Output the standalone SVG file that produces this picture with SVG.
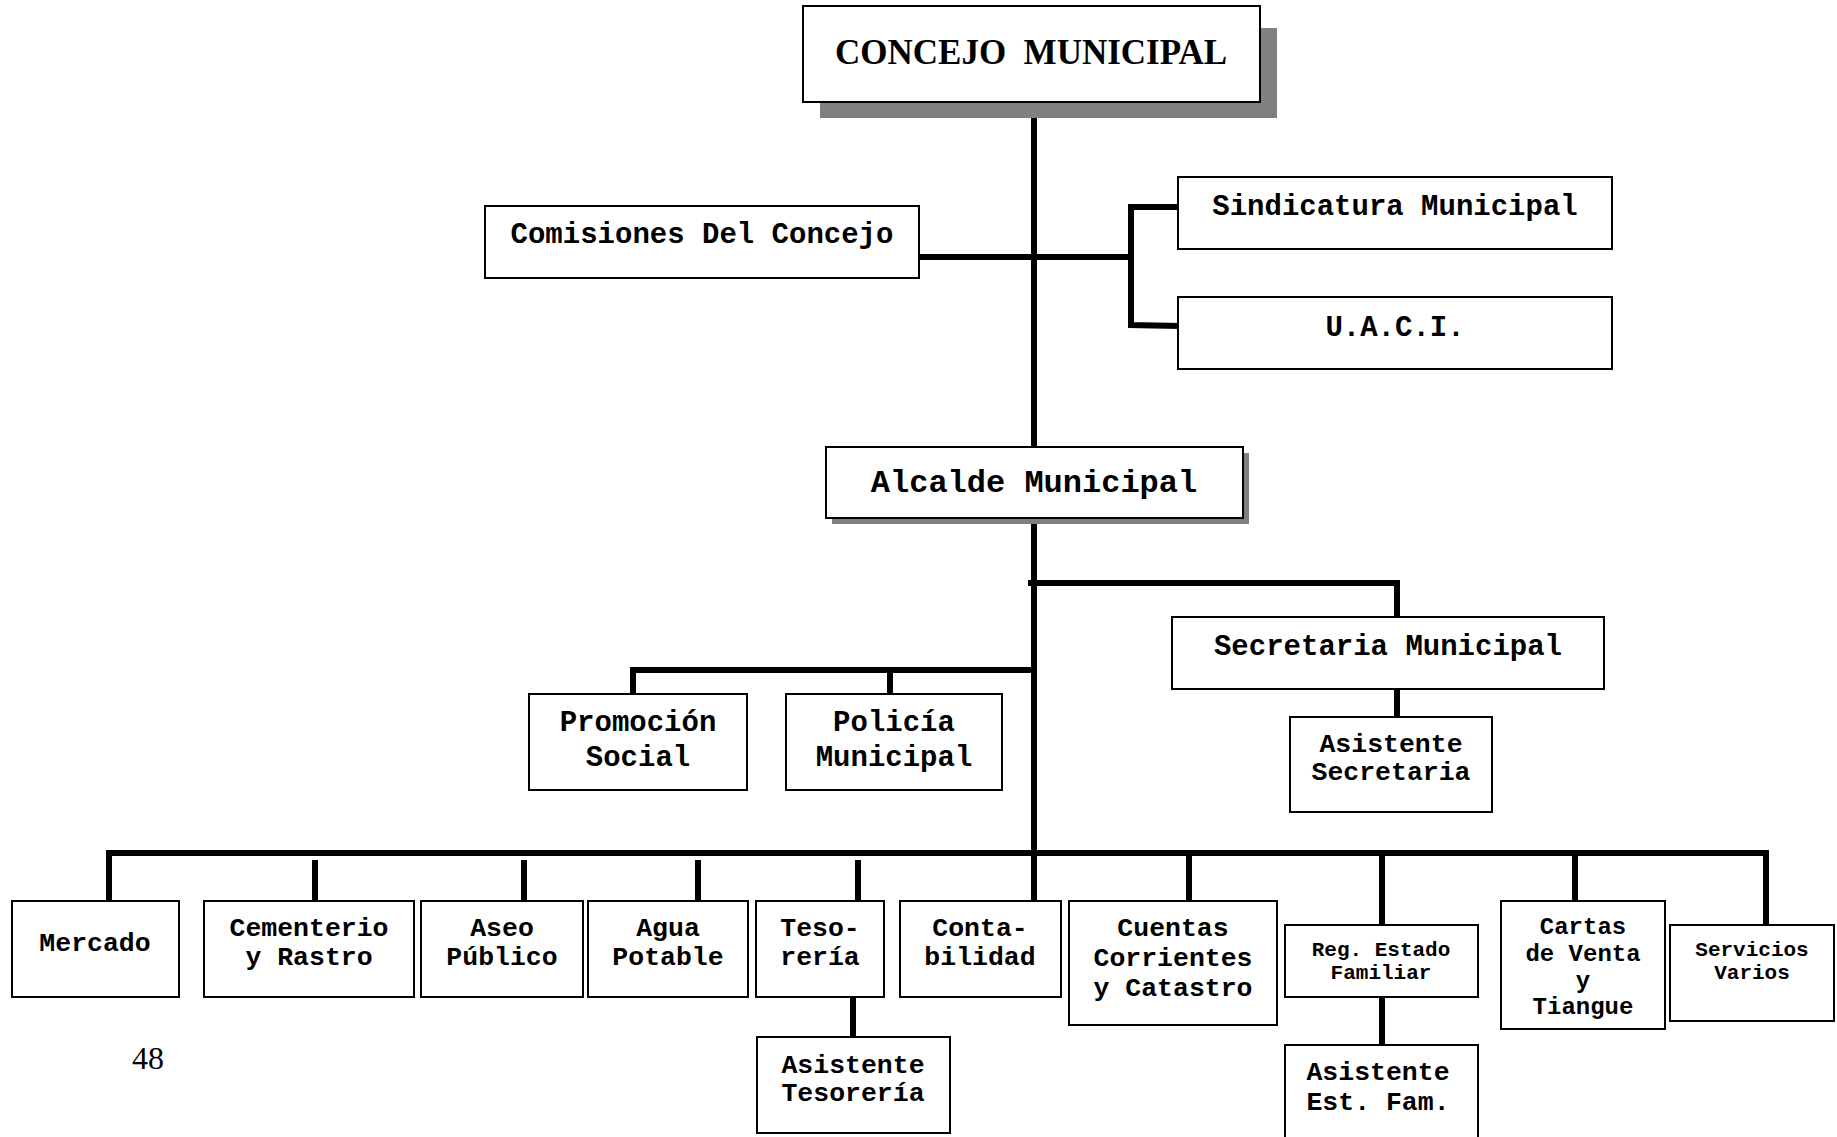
<svg xmlns="http://www.w3.org/2000/svg" width="1837" height="1137" viewBox="0 0 1837 1137">
<style>
  .box { fill: #fff; stroke: #000; stroke-width: 2; }
  .shadow { fill: #808080; }
  .t { font-family: "Liberation Mono", "Courier New", monospace; font-weight: bold; fill: #000; text-anchor: middle; }
  .f29 { font-size: 29px; }
  .f32 { font-size: 32px; }
  .f26 { font-size: 26.5px; }
  .f24 { font-size: 24px; }
  .f21 { font-size: 21px; }
  .conn line, .conn polyline { stroke: #000; stroke-width: 6; fill: none; stroke-linecap: square; }
</style>
<rect width="1837" height="1137" fill="#fff"/>

<g id="connectors" class="conn">
  <line x1="1034" y1="102" x2="1034" y2="447"/>
  <line x1="920" y1="257" x2="1131" y2="257"/>
  <polyline points="1177,207 1131,207 1131,325 1177,326"/>
  <line x1="1034" y1="518" x2="1034" y2="900"/>
  <polyline points="1031,583 1397,583 1397,616"/>
  <line x1="1397" y1="690" x2="1397" y2="716"/>
  <polyline points="633,693 633,670 1034,670"/>
  <line x1="890" y1="670" x2="890" y2="693"/>
  <polyline points="109,900 109,853 1766,853 1766,924"/>
  <line x1="315" y1="863" x2="315" y2="900"/>
  <line x1="524" y1="863" x2="524" y2="900"/>
  <line x1="698" y1="863" x2="698" y2="900"/>
  <line x1="858" y1="863" x2="858" y2="900"/>
  <line x1="853" y1="998" x2="853" y2="1036"/>
  <line x1="1189" y1="853" x2="1189" y2="900"/>
  <line x1="1382" y1="853" x2="1382" y2="924"/>
  <line x1="1382" y1="998" x2="1382" y2="1044"/>
  <line x1="1575" y1="853" x2="1575" y2="900"/>
</g>

<g id="concejo">
  <rect class="shadow" x="820" y="28" width="457" height="90"/>
  <rect class="box" x="803" y="6" width="457" height="96"/>
  <text x="835" y="64" font-family="Liberation Serif, 'Times New Roman', serif" font-weight="bold" font-size="35">CONCEJO&#160; MUNICIPAL</text>
</g>

<g id="comisiones">
  <rect class="box" x="485" y="206" width="434" height="72"/>
  <text class="t f29" x="702" y="243">Comisiones Del Concejo</text>
</g>

<g id="sindicatura">
  <rect class="box" x="1178" y="177" width="434" height="72"/>
  <text class="t f29" x="1395" y="215">Sindicatura Municipal</text>
</g>

<g id="uaci">
  <rect class="box" x="1178" y="297" width="434" height="72"/>
  <text class="t f29" x="1395" y="336">U.A.C.I.</text>
</g>

<g id="alcalde">
  <rect class="shadow" x="832" y="453" width="417" height="71"/>
  <rect class="box" x="826" y="447" width="417" height="71"/>
  <text class="t f32" x="1034" y="492">Alcalde Municipal</text>
</g>

<g id="secretaria">
  <rect class="box" x="1172" y="617" width="432" height="72"/>
  <text class="t f29" x="1388" y="655">Secretaria Municipal</text>
</g>

<g id="asistente-secretaria">
  <rect class="box" x="1290" y="717" width="202" height="95"/>
  <text class="t f26" x="1391" y="752">Asistente</text>
  <text class="t f26" x="1391" y="780">Secretaria</text>
</g>

<g id="promocion">
  <rect class="box" x="529" y="694" width="218" height="96"/>
  <text class="t f29" x="638" y="731">Promoción</text>
  <text class="t f29" x="638" y="766">Social</text>
</g>

<g id="policia">
  <rect class="box" x="786" y="694" width="216" height="96"/>
  <text class="t f29" x="894" y="731">Policía</text>
  <text class="t f29" x="894" y="766">Municipal</text>
</g>

<g id="mercado">
  <rect class="box" x="12" y="901" width="167" height="96"/>
  <text class="t f26" x="95" y="951">Mercado</text>
</g>

<g id="cementerio">
  <rect class="box" x="204" y="901" width="210" height="96"/>
  <text class="t f26" x="309" y="936">Cementerio</text>
  <text class="t f26" x="309" y="965">y Rastro</text>
</g>

<g id="aseo">
  <rect class="box" x="421" y="901" width="162" height="96"/>
  <text class="t f26" x="502" y="936">Aseo</text>
  <text class="t f26" x="502" y="965">Público</text>
</g>

<g id="agua">
  <rect class="box" x="588" y="901" width="160" height="96"/>
  <text class="t f26" x="668" y="936">Agua</text>
  <text class="t f26" x="668" y="965">Potable</text>
</g>

<g id="tesoreria">
  <rect class="box" x="756" y="901" width="128" height="96"/>
  <text class="t f26" x="820" y="936">Teso-</text>
  <text class="t f26" x="820" y="965">rería</text>
</g>

<g id="contabilidad">
  <rect class="box" x="900" y="901" width="161" height="96"/>
  <text class="t f26" x="980" y="936">Conta-</text>
  <text class="t f26" x="980" y="965">bilidad</text>
</g>

<g id="cuentas">
  <rect class="box" x="1069" y="901" width="208" height="124"/>
  <text class="t f26" x="1173" y="936">Cuentas</text>
  <text class="t f26" x="1173" y="966">Corrientes</text>
  <text class="t f26" x="1173" y="996">y Catastro</text>
</g>

<g id="reg-estado">
  <rect class="box" x="1285" y="925" width="193" height="72"/>
  <text class="t f21" x="1381" y="956">Reg. Estado</text>
  <text class="t f21" x="1381" y="979">Familiar</text>
</g>

<g id="cartas">
  <rect class="box" x="1501" y="901" width="164" height="128"/>
  <text class="t f24" x="1583" y="934">Cartas</text>
  <text class="t f24" x="1583" y="961">de Venta</text>
  <text class="t f24" x="1583" y="988">y</text>
  <text class="t f24" x="1583" y="1014">Tiangue</text>
</g>

<g id="servicios">
  <rect class="box" x="1670" y="925" width="164" height="96"/>
  <text class="t f21" x="1752" y="956">Servicios</text>
  <text class="t f21" x="1752" y="979">Varios</text>
</g>

<g id="asistente-tesoreria">
  <rect class="box" x="757" y="1037" width="193" height="96"/>
  <text class="t f26" x="853" y="1073">Asistente</text>
  <text class="t f26" x="853" y="1101">Tesorería</text>
</g>

<g id="asistente-est-fam">
  <rect class="box" x="1285" y="1045" width="193" height="100"/>
  <text class="t f26" x="1378" y="1080">Asistente</text>
  <text class="t f26" x="1378" y="1110">Est. Fam.</text>
</g>

<text x="132" y="1069" font-family="Liberation Serif, 'Times New Roman', serif" font-size="32">48</text>
</svg>
